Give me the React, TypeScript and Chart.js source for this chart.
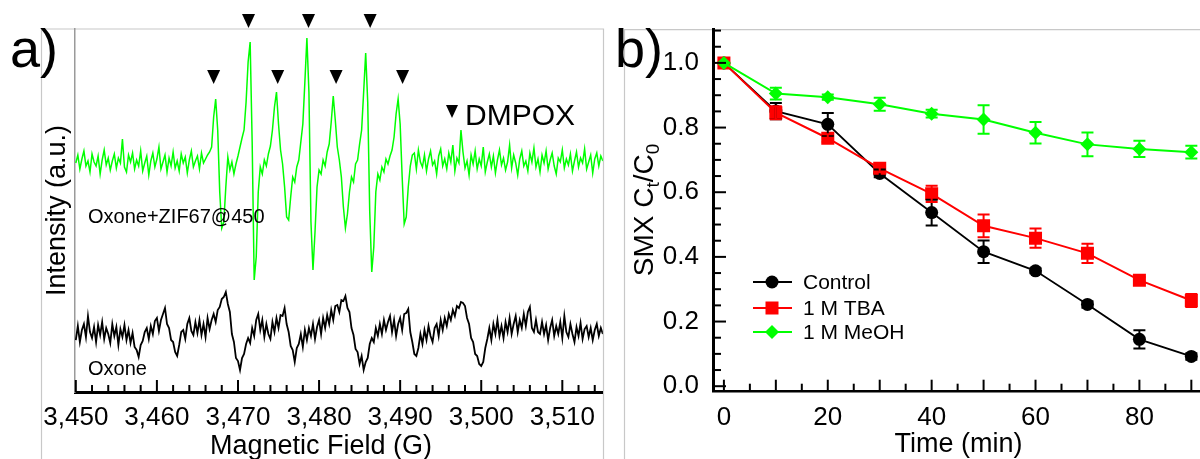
import React, { useEffect, useRef } from "react";
import { Chart, registerables } from "chart.js";

Chart.register(...registerables);

const FONT = "'Liberation Sans', Arial, Helvetica, sans-serif";
const CANVAS_H = 470;

// ---------- Panel a: EPR spectra ----------
const FIELD_START = 3450;
const FIELD_STEP = 0.25;
const fieldTicks = [3450, 3460, 3470, 3480, 3490, 3500, 3510];
const dmpoxSmallPeaks = [3467.0, 3474.9, 3482.1, 3490.3];
const dmpoxBigPeaks = [3471.3, 3478.7, 3486.3];

const greenEPR = [
  229, 237, 223, 233, 241, 226, 231, 220, 238, 230,
  226, 236, 218, 232, 242, 227, 234, 222, 231, 238,
  224, 234, 229, 253, 225, 220, 237, 230, 239, 223,
  232, 226, 241, 221, 229, 236, 217, 231, 239, 225,
  233, 245, 223, 230, 237, 220, 234, 226, 240, 224,
  231, 221, 238, 229, 235, 219, 232, 241, 225, 231,
  236, 223, 239, 229, 233, 237, 240, 245, 275, 293,
  262, 200, 164, 170, 205, 235, 222, 230, 218, 228,
  236, 245, 254, 262, 290, 330, 350, 250, 112, 135,
  200, 225, 218, 232, 226, 238, 246, 262, 285, 300,
  268, 242, 228, 205, 175, 172, 195, 215, 210, 225,
  232, 250, 268, 310, 354, 300, 170, 122, 160, 205,
  222, 218, 232, 226, 240, 248, 270, 296, 272, 245,
  232, 215, 185, 164, 178, 200, 215, 210, 228, 232,
  248, 262, 300, 339, 290, 180, 120, 145, 200, 218,
  212, 225, 220, 233, 228, 236, 242, 255, 278, 293,
  268, 215, 168, 175, 205, 226, 237, 239, 223, 242,
  230, 225, 237, 221, 233, 241, 227, 231, 218, 236,
  243, 226, 233, 223, 239, 230, 247, 221, 234, 229,
  262, 240, 224, 231, 217, 237, 228, 241, 223, 233,
  226, 245, 220, 230, 238, 225, 236, 219, 232, 242,
  227, 234, 222, 230, 247, 224, 237, 229, 217, 233,
  241, 226, 231, 221, 239, 230, 244, 225, 233, 220,
  237, 229, 241, 223, 232, 239, 226, 218, 234, 230,
  242, 224, 233, 227, 238, 221, 231, 240, 225, 234,
  229, 243, 223, 230, 237, 219, 233, 239, 226, 236,
  231,
];

const blackEPR = [
  52, 66, 50, 62, 68, 55, 76, 60, 54, 65,
  50, 67, 57, 70, 53, 64, 58, 49, 68, 56,
  65, 47, 63, 55, 67, 52, 62, 49, 59, 45,
  42, 35, 47, 51, 60, 64, 53, 66, 58, 71,
  74, 61, 72, 78, 84, 68, 64, 52, 50, 40,
  36, 47, 60, 62, 53, 68, 74, 61, 57, 70,
  59, 72, 57, 68, 55, 74, 63, 72, 78, 70,
  82, 85, 93, 95, 100, 88, 80, 58, 50, 34,
  31, 22, 34, 38, 48, 54, 49, 64, 56, 72,
  78, 62, 72, 55, 68, 58, 53, 70, 60, 74,
  64, 77, 76, 84, 68, 60, 46, 42, 30, 44,
  48, 58, 45, 62, 52, 64, 56, 68, 53, 65,
  72, 58, 74, 64, 77, 68, 82, 72, 86, 87,
  80, 92, 91, 96, 84, 80, 64, 57, 43, 40,
  28, 36, 22, 30, 34, 48, 54, 50, 64, 56,
  68, 58, 72, 62, 70, 76, 60, 72, 56, 68,
  74, 62, 78, 79, 83, 60, 50, 38, 36, 44,
  58, 48, 62, 52, 66, 56, 50, 64, 68, 56,
  72, 62, 74, 66, 78, 72, 82, 76, 86, 84,
  90, 89, 86, 74, 68, 54, 50, 38, 36, 28,
  26, 30, 44, 53, 64, 52, 68, 58, 72, 56,
  66, 54, 70, 60, 74, 58, 68, 76, 60, 72,
  64, 78, 66, 80, 85, 64, 60, 72, 60, 58,
  70, 58, 67, 52, 64, 72, 56, 66, 58, 70,
  54, 76, 60, 55, 68, 58, 50, 65, 56, 69,
  53, 63, 66, 55, 64, 52, 62, 68, 56, 64,
  58,
];

// ---------- Panel b: SMX degradation ----------
const times = [0, 10, 20, 30, 40, 50, 60, 70, 80, 90];
const control = [1.0, 0.851, 0.81, 0.658, 0.537, 0.416, 0.357, 0.253, 0.145, 0.092];
const controlErr = [0, 0.025, 0.035, 0.012, 0.04, 0.035, 0.008, 0.01, 0.028, 0.01];
const tba = [1.0, 0.846, 0.767, 0.674, 0.595, 0.496, 0.458, 0.411, 0.328, 0.265];
const tbaErr = [0, 0.02, 0.012, 0.012, 0.025, 0.035, 0.03, 0.03, 0.01, 0.02];
const meoh = [1.0, 0.905, 0.894, 0.872, 0.843, 0.825, 0.784, 0.748, 0.734, 0.724];
const meohErr = [0, 0.018, 0.008, 0.02, 0.012, 0.044, 0.033, 0.037, 0.025, 0.02];
const timeTicks = [0, 20, 40, 60, 80];
const ratioTicks = [0, 0.2, 0.4, 0.6, 0.8, 1.0];
const seriesNames = ["Control", "1 M TBA", "1 M MeOH"];
const seriesColors = ["#000000", "#ff0000", "#00ff00"];

const f = (size: number) => `${size}px ${FONT}`;

function downTriangle(ctx: CanvasRenderingContext2D, cx: number, tipY: number, w: number, h: number) {
  ctx.beginPath();
  ctx.moveTo(cx - w / 2, tipY - h);
  ctx.lineTo(cx + w / 2, tipY - h);
  ctx.lineTo(cx, tipY);
  ctx.closePath();
  ctx.fill();
}

function marker(ctx: CanvasRenderingContext2D, style: string, x: number, y: number, r: number, color: string) {
  ctx.fillStyle = color;
  ctx.beginPath();
  if (style === "circle") {
    ctx.arc(x, y, r, 0, Math.PI * 2);
  } else if (style === "rect") {
    ctx.rect(x - r, y - r, 2 * r, 2 * r);
  } else {
    ctx.moveTo(x, y - r);
    ctx.lineTo(x + r, y);
    ctx.lineTo(x, y + r);
    ctx.lineTo(x - r, y);
    ctx.closePath();
  }
  ctx.fill();
}

const panelAPlugin = {
  id: "panelA",
  beforeDraw(chart: any) {
    const { ctx, chartArea } = chart;
    ctx.save();
    ctx.strokeStyle = "#c8c8c8";
    ctx.lineWidth = 1.2;
    ctx.beginPath();
    ctx.moveTo(41.5, CANVAS_H);
    ctx.lineTo(41.5, chartArea.top);
    ctx.lineTo(603.5, chartArea.top);
    ctx.lineTo(603.5, CANVAS_H);
    ctx.stroke();
    ctx.restore();
  },
  afterDraw(chart: any) {
    const { ctx, chartArea, scales } = chart;
    const x = scales.x;
    const y = scales.y;
    ctx.save();
    ctx.strokeStyle = "#000";
    ctx.lineWidth = 2;
    for (let v = 3450; v <= 3514; v += 2) {
      const px = x.getPixelForValue(v);
      const len = (v - 3450) % 10 === 0 ? 12 : 7;
      ctx.beginPath();
      ctx.moveTo(px, chartArea.bottom);
      ctx.lineTo(px, chartArea.bottom - len);
      ctx.stroke();
    }
    ctx.fillStyle = "#000";
    dmpoxSmallPeaks.forEach((p) => downTriangle(ctx, x.getPixelForValue(p), y.getPixelForValue(308), 13, 14));
    dmpoxBigPeaks.forEach((p) => downTriangle(ctx, x.getPixelForValue(p), y.getPixelForValue(364), 13, 14));
    downTriangle(ctx, 452, 118, 12, 13);
    ctx.textAlign = "left";
    ctx.textBaseline = "alphabetic";
    ctx.font = f(30);
    ctx.fillText("DMPOX", 465, 124.5);
    ctx.font = f(20);
    ctx.fillText("Oxone+ZIF67@450", 88, 223);
    ctx.fillText("Oxone", 88, 375);
    ctx.font = f(54);
    ctx.fillText("a)", 10, 67);
    ctx.font = f(27);
    ctx.textAlign = "center";
    ctx.textBaseline = "middle";
    ctx.fillText("Magnetic Field (G)", 321, 447);
    ctx.restore();
  },
};

const errorSets = [controlErr, tbaErr, meohErr];
const markerStyles = ["circle", "rect", "diamond"];
const markerSizes = [6.5, 6.5, 7];

const panelBPlugin = {
  id: "panelB",
  beforeDraw(chart: any) {
    const { ctx, chartArea } = chart;
    ctx.save();
    ctx.strokeStyle = "#c8c8c8";
    ctx.lineWidth = 1.2;
    ctx.beginPath();
    ctx.moveTo(18.5, CANVAS_H);
    ctx.lineTo(18.5, chartArea.top);
    ctx.lineTo(chart.width, chartArea.top);
    ctx.stroke();
    ctx.restore();
  },
  afterDatasetsDraw(chart: any) {
    const { ctx, scales } = chart;
    const x = scales.x;
    const y = scales.y;
    ctx.save();
    ctx.lineWidth = 2;
    [control, tba, meoh].forEach((vals, si) => {
      ctx.strokeStyle = seriesColors[si];
      vals.forEach((v, i) => {
        const e = errorSets[si][i];
        if (!e) return;
        const px = x.getPixelForValue(times[i]);
        const y1 = y.getPixelForValue(v + e);
        const y2 = y.getPixelForValue(v - e);
        ctx.beginPath();
        ctx.moveTo(px, y1);
        ctx.lineTo(px, y2);
        ctx.moveTo(px - 6, y1);
        ctx.lineTo(px + 6, y1);
        ctx.moveTo(px - 6, y2);
        ctx.lineTo(px + 6, y2);
        ctx.stroke();
      });
    });
    ctx.restore();
  },
  afterDraw(chart: any) {
    const { ctx, chartArea, scales } = chart;
    const x = scales.x;
    const y = scales.y;
    ctx.save();
    ctx.strokeStyle = "#000";
    ctx.lineWidth = 2;
    for (let k = 0; k <= 22; k++) {
      const v = k * 0.05;
      const py = y.getPixelForValue(v);
      const len = k % 4 === 0 ? 13 : 8;
      ctx.beginPath();
      ctx.moveTo(chartArea.left, py);
      ctx.lineTo(chartArea.left + len, py);
      ctx.stroke();
    }
    for (let t = 0; t <= 90; t += 5) {
      const px = x.getPixelForValue(t);
      const len = t % 10 === 0 ? 12 : 8;
      ctx.beginPath();
      ctx.moveTo(px, chartArea.bottom);
      ctx.lineTo(px, chartArea.bottom - len);
      ctx.stroke();
    }
    // legend
    const rows = [282, 308, 332];
    seriesNames.forEach((name, i) => {
      ctx.strokeStyle = seriesColors[i];
      ctx.lineWidth = 2;
      ctx.beginPath();
      ctx.moveTo(147, rows[i]);
      ctx.lineTo(186, rows[i]);
      ctx.stroke();
      marker(ctx, markerStyles[i], 166, rows[i], markerSizes[i], seriesColors[i]);
      ctx.fillStyle = "#000";
      ctx.font = f(21);
      ctx.textAlign = "left";
      ctx.textBaseline = "middle";
      ctx.fillText(name, 197, rows[i] + 1);
    });
    // panel label
    ctx.fillStyle = "#000";
    ctx.font = f(54);
    ctx.textAlign = "left";
    ctx.textBaseline = "alphabetic";
    ctx.fillText("b)", 9, 67);
    // y title with subscripts
    ctx.translate(47, 210);
    ctx.rotate(-Math.PI / 2);
    const parts = [
      { t: "SMX C", s: 28, dy: 0 },
      { t: "t", s: 19, dy: 6 },
      { t: "/C", s: 28, dy: 0 },
      { t: "0", s: 19, dy: 6 },
    ];
    let total = 0;
    parts.forEach((p) => {
      ctx.font = f(p.s);
      total += ctx.measureText(p.t).width;
    });
    let cx = -total / 2;
    parts.forEach((p) => {
      ctx.font = f(p.s);
      ctx.fillText(p.t, cx, p.dy);
      cx += ctx.measureText(p.t).width;
    });
    ctx.restore();
  },
};

export default function App() {
  const aRef = useRef<HTMLCanvasElement>(null);
  const bRef = useRef<HTMLCanvasElement>(null);

  useEffect(() => {
    const greenData = greenEPR.map((v, i) => ({ x: FIELD_START + i * FIELD_STEP, y: v }));
    const blackData = blackEPR.map((v, i) => ({ x: FIELD_START + i * FIELD_STEP, y: v }));

    const chartA = new Chart(aRef.current as HTMLCanvasElement, {
      type: "line",
      data: {
        datasets: [
          { label: "Oxone+ZIF67@450", data: greenData, borderColor: "#00ff00", borderWidth: 1.5, pointRadius: 0, tension: 0 },
          { label: "Oxone", data: blackData, borderColor: "#000000", borderWidth: 1.8, pointRadius: 0, tension: 0 },
        ],
      },
      options: {
        responsive: false,
        animation: false,
        layout: { padding: { top: 29, right: 2, left: 0, bottom: 0 } },
        plugins: { legend: { display: false }, tooltip: { enabled: false } },
        scales: {
          x: {
            type: "linear",
            min: 3449.9,
            max: 3515,
            grid: { display: false, drawTicks: false },
            border: { display: true, color: "#000", width: 3 },
            ticks: { font: { family: FONT, size: 26 }, color: "#000", padding: 10, maxRotation: 0 },
            afterBuildTicks: (s: any) => { s.ticks = fieldTicks.map((v) => ({ value: v })); },
            afterFit: (s: any) => { s.height = CANVAS_H - 392; },
          },
          y: {
            type: "linear",
            min: 0,
            max: 363,
            grid: { display: false, drawTicks: false },
            border: { display: true, color: "#9a9a9a", width: 1.5 },
            ticks: { display: false },
            title: { display: true, text: "Intensity (a.u.)", color: "#000", font: { family: FONT, size: 27 }, padding: { top: 41, bottom: 0 } },
            afterFit: (s: any) => { s.width = 75; },
          },
        },
      },
      plugins: [panelAPlugin],
    } as any);

    const chartB = new Chart(bRef.current as HTMLCanvasElement, {
      type: "line",
      data: {
        labels: times,
        datasets: [
          { label: seriesNames[0], data: times.map((t, i) => ({ x: t, y: control[i] })), borderColor: seriesColors[0], backgroundColor: seriesColors[0], borderWidth: 1.8, pointStyle: "circle", pointRadius: 6.5, pointBorderWidth: 0, order: 3 },
          { label: seriesNames[1], data: times.map((t, i) => ({ x: t, y: tba[i] })), borderColor: seriesColors[1], backgroundColor: seriesColors[1], borderWidth: 2, pointStyle: "rect", pointRadius: 9.2, pointBorderWidth: 0, order: 2 },
          { label: seriesNames[2], data: times.map((t, i) => ({ x: t, y: meoh[i] })), borderColor: seriesColors[2], backgroundColor: seriesColors[2], borderWidth: 2, pointStyle: "rectRot", pointRadius: 7, pointBorderWidth: 0, order: 1 },
        ],
      },
      options: {
        responsive: false,
        animation: false,
        layout: { padding: { top: 22.7, right: 0, left: 0, bottom: 0 } },
        plugins: { legend: { display: false }, tooltip: { enabled: false } },
        scales: {
          x: {
            type: "linear",
            min: -2.1,
            max: 92.4,
            grid: { display: false, drawTicks: false },
            border: { display: true, color: "#000", width: 2.5 },
            ticks: { font: { family: FONT, size: 26 }, color: "#000", padding: 11, maxRotation: 0 },
            afterBuildTicks: (s: any) => { s.ticks = timeTicks.map((v) => ({ value: v })); },
            title: { display: true, text: "Time (min)", color: "#000", font: { family: FONT, size: 27 }, padding: { top: 0, bottom: 9 } },
            afterFit: (s: any) => { s.height = CANVAS_H - 391.7; },
          },
          y: {
            type: "linear",
            min: -0.017,
            max: 1.103,
            grid: { display: false, drawTicks: false },
            border: { display: true, color: "#000", width: 3 },
            ticks: { font: { family: FONT, size: 26 }, color: "#000", padding: 14, callback: (v: any) => Number(v).toFixed(1) },
            afterBuildTicks: (s: any) => { s.ticks = ratioTicks.map((v) => ({ value: v })); },
            afterFit: (s: any) => { s.width = 107; },
          },
        },
      },
      plugins: [panelBPlugin],
    } as any);

    return () => {
      chartA.destroy();
      chartB.destroy();
    };
  }, []);

  return (
    <div style={{ position: "absolute", left: 0, top: 0, width: 1200, height: 459, overflow: "hidden", background: "#fff" }}>
      <canvas ref={aRef} width={605} height={CANVAS_H} style={{ position: "absolute", left: 0, top: 0, width: 605, height: CANVAS_H }} />
      <canvas ref={bRef} width={607} height={CANVAS_H} style={{ position: "absolute", left: 606, top: 0, width: 607, height: CANVAS_H }} />
    </div>
  );
}
